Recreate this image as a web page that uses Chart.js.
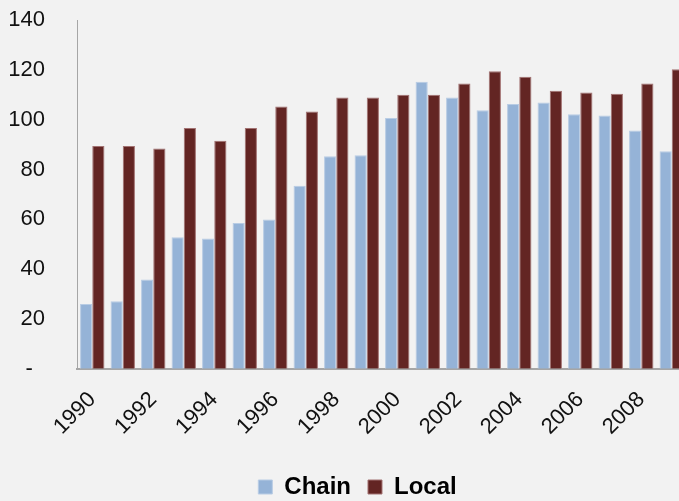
<!DOCTYPE html>
<html>
<head>
<meta charset="utf-8">
<script src="https://cdn.jsdelivr.net/npm/chart.js@4"></script>
<style>
  html, body { margin: 0; padding: 0; background: #f2f2f2; overflow: hidden; }
  #wrap { width: 690px; height: 501px; }
</style>
</head>
<body>
<div id="wrap"><canvas id="chart" width="690" height="501"></canvas></div>
<script>
// 数据
const years = ['1990', '1991', '1992', '1993', '1994', '1995', '1996', '1997', '1998', '1999',
               '2000', '2001', '2002', '2003', '2004', '2005', '2006', '2007', '2008', '2009'];
const chain = [26.0, 27.1, 35.8, 52.8, 52.3, 58.5, 59.9, 73.5, 85.3, 85.7,
               100.7, 115.2, 108.9, 103.8, 106.3, 106.9, 102.2, 101.7, 95.6, 87.3];
const local = [89.4, 89.4, 88.4, 96.6, 91.5, 96.6, 105.3, 103.3, 108.9, 108.9,
               110.0, 110.0, 114.5, 119.4, 117.2, 111.6, 110.9, 110.4, 114.5, 120.2];
const yTicks = [0, 20, 40, 60, 80, 100, 120, 140];

Chart.defaults.font.family = '"Liberation Sans", Arial, sans-serif';
Chart.defaults.color = '#111';

// 图例往右挪一点，和原图对齐
const shiftLegend = {
    id: 'shiftLegend',
    afterLayout(chart) {
        const lg = chart.legend;
        lg.left += 9;
        lg.right += 9;
    }
};

const ctx = document.getElementById('chart').getContext('2d');
new Chart(ctx, {
    type: 'bar',
    data: {
        labels: years,
        datasets: [{
            label: 'Chain',
            data: chain,
            backgroundColor: '#95b3d7',
            borderColor: '#b8cce4',
            borderWidth: 1
        }, {
            label: 'Local',
            data: local,
            backgroundColor: '#632523',
            borderColor: '#a27272',
            borderWidth: 1
        }]
    },
    plugins: [shiftLegend],
    options: {
        responsive: false,
        animation: false,
        categoryPercentage: 0.8,
        barPercentage: 1.0,
        layout: { padding: { left: 10, right: 3, top: 20, bottom: -8 } },
        plugins: {
            tooltip: { enabled: false },
            legend: {
                position: 'bottom',
                labels: {
                    boxWidth: 14,
                    boxHeight: 14,
                    padding: 17,
                    color: '#000',
                    font: { size: 24, weight: 'bold' }
                }
            }
        },
        scales: {
            x: {
                afterFit: s => { s.paddingRight = 0; },
                grid: { display: false, drawTicks: false },
                border: { display: true, color: '#a6a6a6', width: 2 },
                ticks: {
                    autoSkip: false,
                    minRotation: 45,
                    maxRotation: 45,
                    padding: 18,
                    font: { size: 22 },
                    callback: (v, i) => (i % 2 === 0 ? years[i] : '')
                }
            },
            y: {
                min: 0,
                max: 140,
                afterFit: s => { s.width = 67; s.paddingTop = 0; },
                afterBuildTicks: scale => { scale.ticks = yTicks.map(v => ({ value: v })); },
                grid: { display: false, drawTicks: false },
                border: { display: true, color: '#a6a6a6', width: 1 },
                ticks: {
                    padding: 32,
                    font: { size: 22 },
                    callback: v => (v === 0 ? '-  ' : v)
                }
            }
        }
    }
});
</script>
</body>
</html>
